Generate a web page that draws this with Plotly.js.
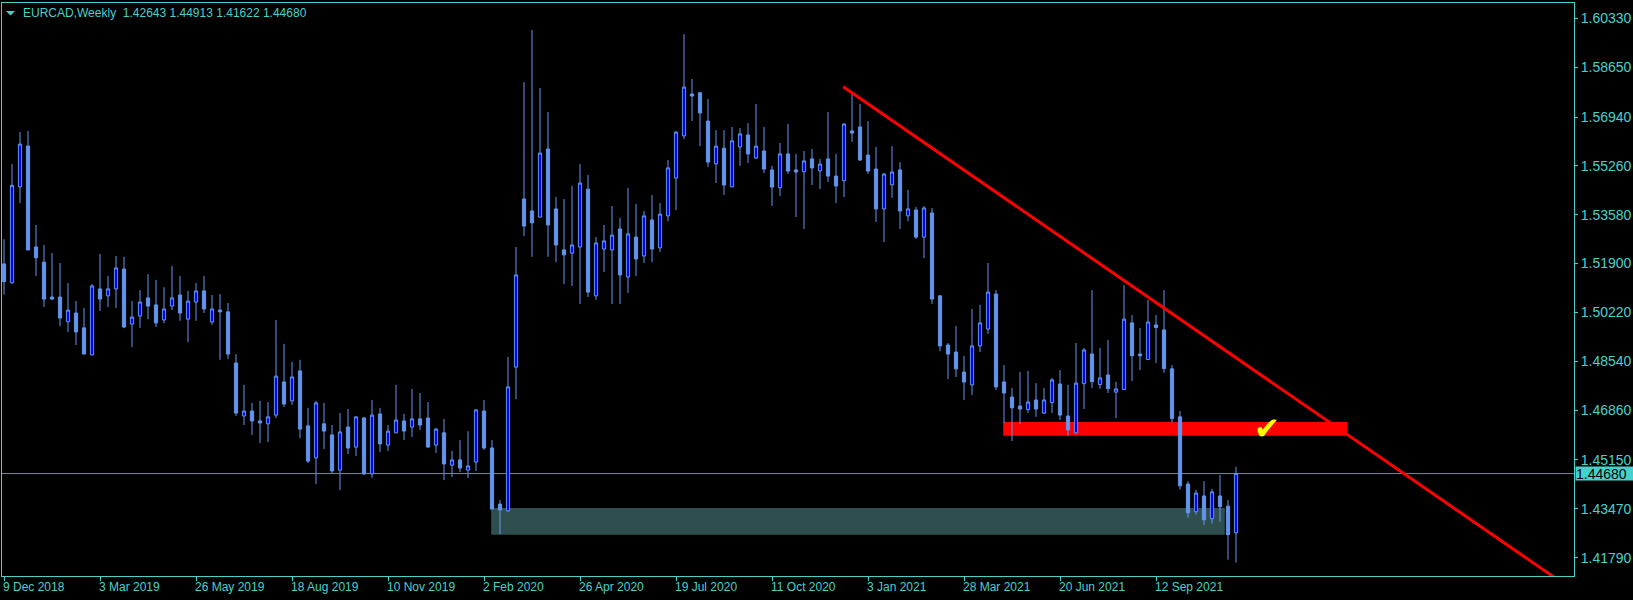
<!DOCTYPE html>
<html>
<head>
<meta charset="utf-8">
<script src="https://cdn.plot.ly/plotly-3.0.1.min.js"></script>
<style>html,body{margin:0;padding:0;background:#000;}#chart{width:1633px;height:600px;}</style>
</head>
<body>
<div id="chart"></div>
<script>
// Weekly EURCAD candles, one per week starting 9 Dec 2018
const OPEN = [1.5189,1.5124,1.5454,1.5594,1.5247,1.5195,1.5075,1.5075,1.4990,1.5020,
1.4969,1.4876,1.5103,1.5079,1.5103,1.5171,1.4982,1.5010,1.5072,1.5048,
1.4996,1.5044,1.5082,1.4999,1.5058,1.5096,1.4989,1.5030,1.5024,1.4848,
1.4666,1.4683,1.4649,1.4639,1.4669,1.4783,1.4718,1.4821,1.4632,1.4522,
1.4639,1.4601,1.4480,1.4628,1.4559,1.4659,1.4467,1.4673,1.4566,1.4608,
1.4649,1.4628,1.4656,1.4659,1.4566,1.4608,1.4497,1.4515,1.4480,1.4508,
1.4683,1.4556,1.4363,1.4340,1.4834,1.5412,1.5371,1.5350,1.5584,1.5378,
1.5237,1.5226,1.5247,1.5446,1.5079,1.5240,1.5237,1.5309,1.5144,1.5281,
1.5216,1.5340,1.5244,1.5354,1.5484,1.5629,1.5773,1.5777,1.5680,1.5533,
1.5587,1.5454,1.5591,1.5632,1.5553,1.5577,1.5512,1.5451,1.5567,1.5512,
1.5506,1.5550,1.5509,1.5550,1.5491,1.5475,1.5646,1.5660,1.5563,1.5515,
1.5378,1.5461,1.5512,1.5354,1.5374,1.5281,1.5364,1.5079,1.4910,1.4886,
1.4817,1.4773,1.4907,1.4965,1.5085,1.4783,1.4731,1.4700,1.4688,1.4721,
1.4676,1.4712,1.4776,1.4666,1.4608,1.4777,1.4879,1.4774,1.4807,1.4748,
1.4757,1.4986,1.4879,1.4860,1.4979,1.4962,1.4828,1.4663,1.4432,1.4337,
1.4391,1.4313,1.4391,1.4356,1.42643];
const HIGH = [1.5274,1.5532,1.5642,1.5646,1.5323,1.5254,1.5226,1.5192,1.5123,1.5061,
1.5037,1.5120,1.5223,1.5147,1.5216,1.5213,1.5061,1.5099,1.5154,1.5134,
1.5109,1.5182,1.5147,1.5096,1.5123,1.5147,1.5082,1.5085,1.5055,1.4879,
1.4773,1.4711,1.4718,1.4714,1.4996,1.4914,1.4852,1.4859,1.4694,1.4718,
1.4711,1.4635,1.4676,1.4690,1.4664,1.4663,1.4721,1.4694,1.4635,1.4773,
1.4673,1.4759,1.4745,1.4714,1.4625,1.4656,1.4546,1.4583,1.4614,1.4688,
1.4721,1.4583,1.4377,1.4869,1.5247,1.5814,1.5993,1.5794,1.5711,1.5419,
1.5412,1.5457,1.5532,1.5495,1.5281,1.5323,1.5388,1.5347,1.5450,1.5395,
1.5371,1.5426,1.5398,1.5546,1.5646,1.5979,1.5825,1.5780,1.5756,1.5649,
1.5649,1.5660,1.5656,1.5673,1.5739,1.5660,1.5526,1.5605,1.5670,1.5567,
1.5577,1.5584,1.5550,1.5711,1.5567,1.5672,1.5773,1.5739,1.5680,1.5591,
1.5501,1.5594,1.5539,1.5443,1.5385,1.5388,1.5381,1.5082,1.4917,1.4975,
1.4872,1.5034,1.5048,1.5192,1.5099,1.4841,1.4762,1.4817,1.4821,1.4779,
1.4762,1.4797,1.4824,1.4773,1.4917,1.4900,1.5099,1.4900,1.4927,1.4783,
1.5116,1.5013,1.4969,1.5065,1.5013,1.5099,1.4841,1.4683,1.4442,1.4412,
1.4442,1.4415,1.4463,1.4377,1.44913];
const LOW = [1.5083,1.5121,1.5398,1.5236,1.5147,1.5041,1.5065,1.4975,1.4955,1.4910,
1.4878,1.4875,1.5027,1.5041,1.5037,1.4968,1.4903,1.4969,1.4999,1.4972,
1.4985,1.5030,1.4993,1.4920,1.4993,1.5020,1.4979,1.4859,1.4862,1.4666,
1.4635,1.4601,1.4573,1.4577,1.4659,1.4697,1.4704,1.4590,1.4504,1.4432,
1.4552,1.4470,1.4412,1.4535,1.4528,1.4463,1.4453,1.4542,1.4546,1.4607,
1.4583,1.4594,1.4618,1.4558,1.4539,1.4446,1.4456,1.4473,1.4453,1.4477,
1.4549,1.4344,1.4260,1.4336,1.4724,1.5285,1.5213,1.5349,1.5213,1.5195,
1.5120,1.5113,1.5051,1.5075,1.5065,1.5161,1.5051,1.5051,1.5089,1.5147,
1.5192,1.5195,1.5230,1.5336,1.5374,1.5618,1.5680,1.5594,1.5522,1.5467,
1.5426,1.5453,1.5526,1.5536,1.5550,1.5501,1.5388,1.5422,1.5498,1.5350,
1.5309,1.5460,1.5446,1.5471,1.5398,1.5419,1.5608,1.5543,1.5498,1.5333,
1.5264,1.5416,1.5309,1.5336,1.5275,1.5209,1.5051,1.4889,1.4793,1.4800,
1.4721,1.4738,1.4886,1.4948,1.4755,1.4642,1.4580,1.4639,1.4676,1.4663,
1.4673,1.4676,1.4652,1.4597,1.4604,1.4690,1.4762,1.4759,1.4745,1.4659,
1.4756,1.4786,1.4824,1.4859,1.4848,1.4814,1.4643,1.4413,1.4316,1.4327,
1.4292,1.4296,1.4302,1.4172,1.41622];
const CLOSE = [1.5128,1.5459,1.5601,1.5237,1.5210,1.5068,1.5068,1.5003,1.5030,1.4955,
1.4879,1.5113,1.5068,1.5103,1.5175,1.4972,1.5006,1.5058,1.5044,1.4986,
1.5034,1.5072,1.5020,1.5061,1.5096,1.5034,1.5034,1.5024,1.4879,1.4676,
1.4683,1.4649,1.4642,1.4663,1.4803,1.4707,1.4800,1.4621,1.4511,1.4711,
1.4614,1.4477,1.4611,1.4556,1.4663,1.4467,1.4669,1.4570,1.4614,1.4652,
1.4614,1.4656,1.4635,1.4559,1.4621,1.4501,1.4515,1.4487,1.4494,1.4687,
1.4556,1.4346,1.4343,1.4766,1.5151,1.5319,1.5330,1.5570,1.5323,1.5254,
1.5220,1.5254,1.5467,1.5092,1.5261,1.5268,1.5288,1.5151,1.5292,1.5206,
1.5354,1.5240,1.5360,1.5519,1.5642,1.5797,1.5766,1.5708,1.5539,1.5594,
1.5460,1.5612,1.5636,1.5567,1.5594,1.5515,1.5453,1.5567,1.5508,1.5505,
1.5543,1.5519,1.5532,1.5491,1.5457,1.5670,1.5639,1.5546,1.5508,1.5378,
1.5498,1.5505,1.5371,1.5378,1.5281,1.5381,1.5068,1.4907,1.4879,1.4828,
1.4783,1.4907,1.4986,1.5092,1.4766,1.4745,1.4694,1.4690,1.4714,1.4690,
1.4721,1.4790,1.4669,1.4618,1.4779,1.4893,1.4784,1.4797,1.4760,1.4759,
1.4999,1.4873,1.4873,1.4989,1.4970,1.4829,1.4657,1.4426,1.4333,1.4401,
1.4309,1.4405,1.4354,1.4258,1.44680];

// Axis labels
const X_TICK_POS = [0,12,24,36,48,60,72,84,96,108,120,132,144];
const X_TICK_TEXT = ['9 Dec 2018','3 Mar 2019','26 May 2019','18 Aug 2019','10 Nov 2019','2 Feb 2020',
  '26 Apr 2020','19 Jul 2020','11 Oct 2020','3 Jan 2021','28 Mar 2021','20 Jun 2021','12 Sep 2021'];
const Y_TICKS = [1.60330,1.58650,1.56940,1.55260,1.53580,1.51900,1.50220,1.48540,1.46860,1.45150,1.43470,1.41790];

// Drawn objects (week index, price)
const TREND = {x0:104.9, y0:1.5798, x1:200, y1:1.3993};
const RED_ZONE = {x0:124.9, x1:167.9, y0:1.4598, y1:1.4645};
const DEMAND_ZONE = {x0:60.9, x1:152.6, y0:1.4258, y1:1.4350};
const CHECK = {x:157.9, y:1.4625};
const BID = 1.44680;
const HEADER = 'EURCAD,Weekly\u00A0 1.42643 1.44913 1.41622 1.44680';

const TQ = '#48D1CC';
const idx = OPEN.map((_, i) => i);

const trace = {
  type: 'candlestick',
  x: idx, open: OPEN, high: HIGH, low: LOW, close: CLOSE,
  increasing: {line: {color: '#6495ED', width: 1}, fillcolor: '#0000FF'},
  decreasing: {line: {color: '#6495ED', width: 1}, fillcolor: '#6495ED'},
  whiskerwidth: 0,
  hoverinfo: 'skip',
  showlegend: false
};

const layout = {
  width: 1633, height: 600,
  margin: {l: 2, r: 59, t: 3, b: 24, pad: 0},
  paper_bgcolor: '#000000', plot_bgcolor: '#000000',
  showlegend: false,
  boxgap: 0.42,
  font: {family: 'Liberation Sans, Arial, sans-serif', color: TQ, size: 12},
  xaxis: {
    range: [-0.25, 196.25], fixedrange: true,
    rangeslider: {visible: false},
    showgrid: false, zeroline: false,
    showline: true, mirror: true, linecolor: TQ, linewidth: 1,
    ticks: 'outside', ticklen: 4, tickcolor: TQ, tickwidth: 1,
    tickmode: 'array', tickvals: X_TICK_POS, ticktext: X_TICK_TEXT,
    ticklabelposition: 'outside right', ticklabelshift: -2,
    tickfont: {family: 'Liberation Sans, Arial, sans-serif', size: 12, color: TQ}
  },
  yaxis: {
    range: [1.41158, 1.6086], fixedrange: true, side: 'right',
    showgrid: false, zeroline: false,
    showline: true, mirror: true, linecolor: TQ, linewidth: 1,
    ticks: 'outside', ticklen: 3, tickcolor: TQ, tickwidth: 1,
    tickmode: 'array', tickvals: Y_TICKS, ticktext: Y_TICKS.map(v => v.toFixed(5)),
    tickfont: {family: 'Liberation Sans, Arial, sans-serif', size: 14, color: TQ}
  },
  shapes: [
    {type: 'rect', xref: 'x', yref: 'y', layer: 'below',
     x0: DEMAND_ZONE.x0, x1: DEMAND_ZONE.x1, y0: DEMAND_ZONE.y0, y1: DEMAND_ZONE.y1,
     fillcolor: '#2F4F4F', line: {width: 0}},
    {type: 'rect', xref: 'x', yref: 'y', layer: 'below',
     x0: RED_ZONE.x0, x1: RED_ZONE.x1, y0: RED_ZONE.y0, y1: RED_ZONE.y1,
     fillcolor: '#FF0000', line: {width: 0}},
    {type: 'line', xref: 'paper', yref: 'y', layer: 'below',
     x0: 0, x1: 1, y0: BID, y1: BID, line: {color: '#778899', width: 1}},
    {type: 'line', xref: 'x', yref: 'y', layer: 'above',
     x0: TREND.x0, y0: TREND.y0, x1: TREND.x1, y1: TREND.y1,
     line: {color: '#FF0000', width: 3}},
    {type: 'path', xref: 'paper', yref: 'paper',
     path: 'M 0.00254,0.98604 L 0.00827,0.98604 L 0.00541,0.97818 Z',
     fillcolor: TQ, line: {width: 0}}
  ],
  annotations: [
    {xref: 'paper', yref: 'paper', x: 0.0121, y: 0.983, xanchor: 'left', yanchor: 'middle',
     text: HEADER, showarrow: false,
     font: {family: 'Liberation Sans, Arial, sans-serif', size: 12, color: TQ}},
    {xref: 'paper', yref: 'y', x: 1, y: BID, xanchor: 'left', yanchor: 'middle',
     xshift: 1, text: BID.toFixed(5), showarrow: false, align: 'left',
     width: 62, height: 13, bgcolor: TQ, borderpad: 0,
     font: {family: 'Liberation Sans, Arial, sans-serif', size: 14, color: '#000000'}},
    {xref: 'x', yref: 'y', x: CHECK.x, y: CHECK.y, xanchor: 'center', yanchor: 'middle',
     text: '\u2714', showarrow: false,
     font: {family: 'DejaVu Sans', size: 31, color: '#FFFF00'}}
  ]
};

Plotly.newPlot('chart', [trace], layout, {staticPlot: true, displayModeBar: false});
</script>
</body>
</html>
